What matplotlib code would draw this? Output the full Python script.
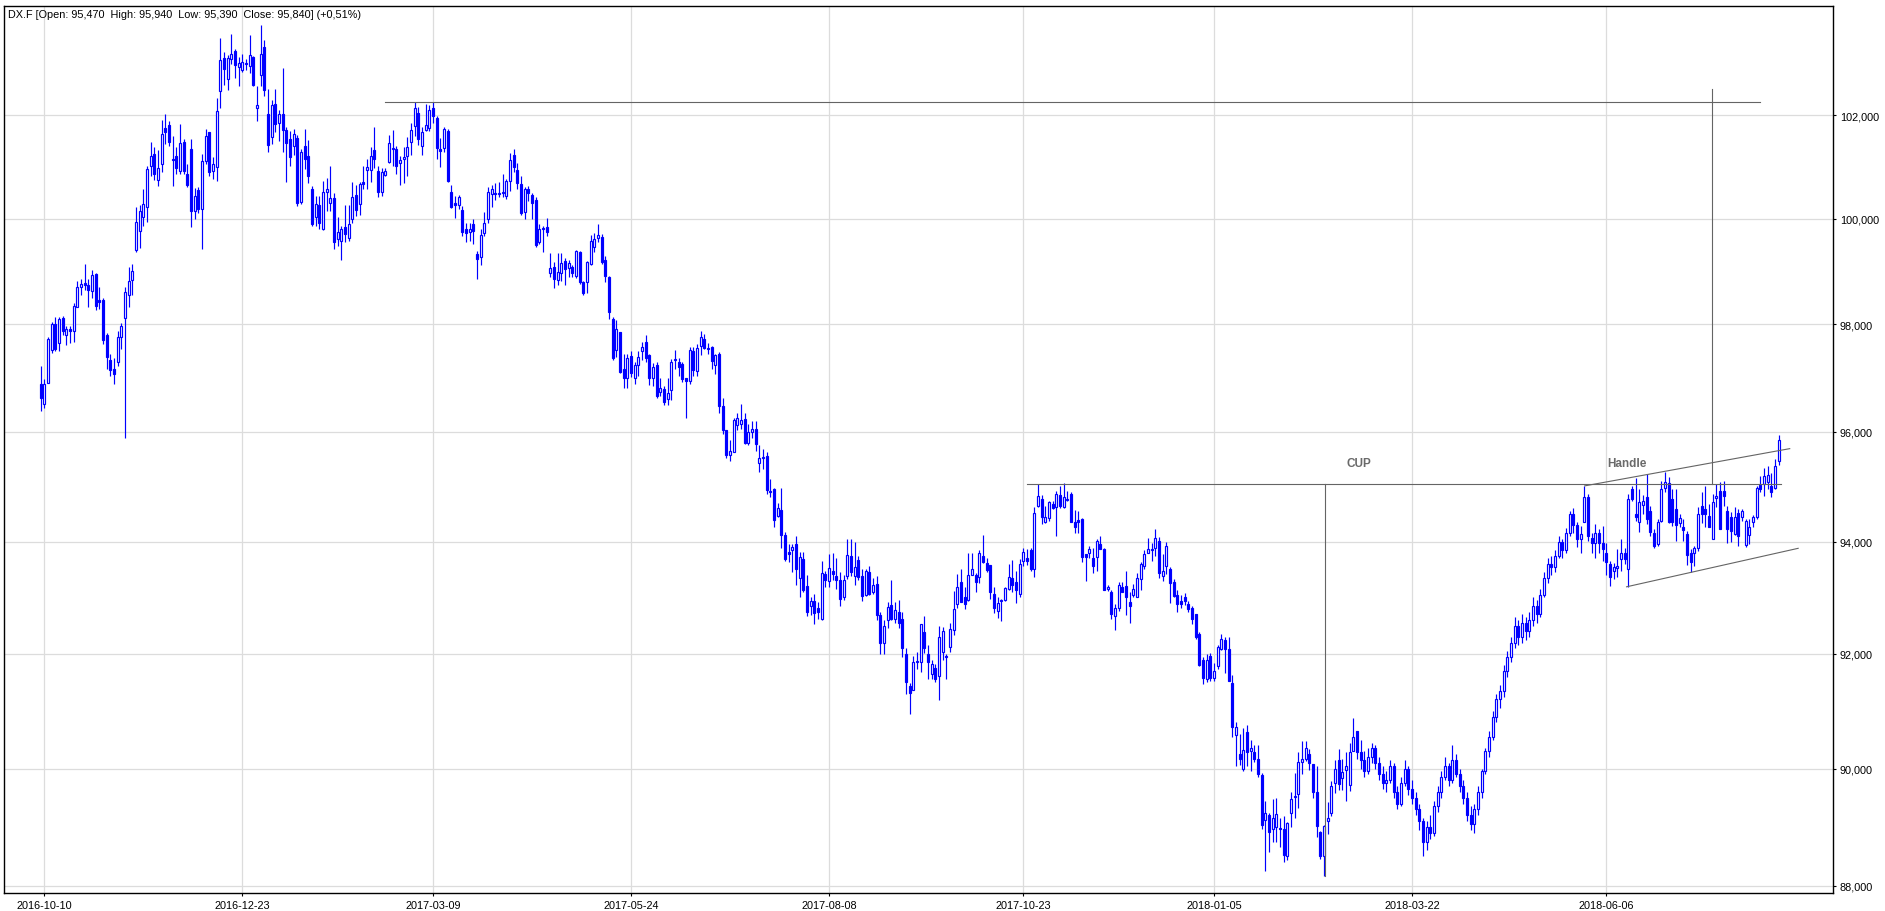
import numpy as np
import matplotlib
matplotlib.use("Agg")
import matplotlib.pyplot as plt
from matplotlib.ticker import FixedLocator, NullLocator, FuncFormatter

# daily bars of DX.F (bar 1 = 2016-10-10)
opens = [
    96.89, 96.52, 96.91, 97.52, 98.00, 97.64, 98.11, 97.79, 97.91, 97.87,
    98.32, 98.70, 98.77, 98.74, 98.62, 98.94, 98.46, 98.45, 97.79, 97.33,
    97.16, 97.30, 97.76, 98.11, 98.54, 98.84, 99.41, 99.76, 100.03, 100.23,
    101.02, 101.25, 100.75, 101.05, 101.76, 101.81, 101.15, 101.21, 100.92, 101.49,
    100.87, 101.35, 100.15, 100.55, 100.19, 101.12, 101.68, 100.92, 101.00, 102.47,
    103.12, 102.71, 103.10, 103.26, 102.94, 102.90, 103.02, 102.97, 103.14, 102.15,
    102.79, 103.34, 102.03, 101.57, 102.22, 101.86, 102.03, 101.72, 101.53, 101.41,
    101.56, 100.32, 101.40, 101.20, 100.57, 100.04, 100.26, 99.81, 100.52, 100.31,
    100.39, 99.61, 99.58, 99.85, 99.64, 99.99, 100.45, 100.28, 100.70, 100.93,
    100.94, 101.33, 100.91, 100.52, 100.85, 101.09, 101.34, 101.35, 101.07, 101.16,
    101.20, 101.49, 101.80, 102.05, 101.41, 101.72, 101.75, 102.14, 101.94, 101.35,
    101.36, 101.70, 100.52, 100.30, 100.26, 100.16, 99.81, 99.75, 99.90, 99.33,
    99.26, 99.72, 99.99, 100.48, 100.50, 100.49, 100.50, 100.44, 100.73, 101.23,
    100.94, 100.66, 100.13, 100.57, 100.45, 100.36, 99.55, 99.82, 99.85, 98.96,
    99.08, 98.84, 98.97, 99.20, 99.06, 99.08, 98.90, 99.36, 98.79, 98.79,
    99.14, 99.45, 99.63, 99.65, 99.21, 98.89, 98.10, 97.51, 97.85, 97.17,
    96.99, 97.41, 96.99, 97.23, 97.49, 97.66, 97.42, 97.00, 97.23, 96.74,
    96.79, 96.60, 96.77, 97.33, 97.30, 97.26, 97.00, 96.93, 97.49, 97.13,
    97.59, 97.73, 97.56, 97.57, 97.23, 97.45, 96.47, 96.04, 95.58, 95.63,
    96.13, 96.15, 96.24, 95.80, 95.99, 96.06, 95.42, 95.51, 95.55, 94.91,
    94.95, 94.47, 94.57, 94.12, 93.81, 93.85, 93.96, 93.34, 93.69, 93.20,
    92.84, 92.94, 92.81, 92.62, 93.42, 93.29, 93.48, 93.39, 93.32, 93.00,
    93.39, 93.74, 93.39, 93.67, 93.39, 93.04, 93.45, 93.09, 93.24, 92.69,
    92.20, 92.60, 92.87, 92.62, 92.75, 92.62, 92.00, 91.43, 91.37, 91.85,
    91.86, 92.39, 92.00, 91.64, 91.76, 91.61, 92.04, 91.96, 92.12, 92.43,
    92.89, 93.27, 93.00, 92.96, 93.41, 93.41, 93.37, 93.74, 93.62, 93.58,
    93.07, 92.76, 92.93, 92.95, 93.15, 93.34, 93.28, 93.06, 93.65, 93.70,
    93.85, 93.50, 94.64, 94.78, 94.36, 94.42, 94.68, 94.62, 94.84, 94.63,
    94.76, 94.86, 94.36, 94.39, 94.41, 93.77, 93.79, 93.71, 93.73, 93.95,
    93.86, 93.15, 93.10, 92.67, 92.81, 93.19, 93.21, 92.92, 93.04, 93.01,
    93.33, 93.57, 93.80, 93.85, 93.89, 94.02, 93.39, 93.57, 93.51, 93.27,
    93.04, 92.94, 93.00, 92.89, 92.82, 92.70, 92.36, 91.90, 91.56, 91.97,
    91.58, 91.78, 92.08, 92.24, 92.08, 91.49, 90.58, 90.26, 90.00, 90.64,
    90.30, 90.28, 90.16, 89.89, 89.11, 89.20, 88.97, 89.00, 88.97, 88.96,
    88.50, 89.24, 89.51, 89.57, 90.12, 90.17, 90.26, 90.08, 89.60, 88.91,
    88.51, 89.10, 89.23, 89.75, 90.15, 89.83, 89.97, 89.72, 90.30, 90.65,
    90.29, 90.15, 89.95, 90.20, 90.35, 90.10, 89.90, 89.75, 89.80, 90.05,
    89.60, 89.40, 89.75, 90.00, 89.65, 89.50, 89.30, 89.10, 88.75, 89.00,
    88.90, 89.35, 89.60, 89.85, 90.05, 89.80, 90.15, 89.90, 89.70, 89.50,
    89.20, 89.05, 89.30, 89.60, 89.95, 90.30, 90.55, 90.90, 91.20, 91.35,
    91.70, 91.95, 92.20, 92.50, 92.30, 92.55, 92.40, 92.60, 92.85, 92.70,
    93.05, 93.35, 93.60, 93.55, 93.75, 94.00, 93.85, 94.15, 94.50, 94.30,
    94.05, 94.35, 94.80, 94.06, 93.97, 94.16, 93.98, 93.80, 93.60, 93.48,
    93.52, 93.68, 93.80, 93.50, 94.96, 94.50, 94.35, 94.66, 94.80, 94.56,
    94.15, 93.95, 94.38, 94.98, 95.07, 94.78, 94.59, 94.33, 94.27, 94.13,
    93.80, 93.80, 93.89, 94.64, 94.59, 94.47, 94.04, 94.79, 94.92, 94.92,
    94.56, 94.44, 94.13, 94.52, 94.45, 93.94, 94.12, 94.36, 94.44, 95.02,
    95.04, 95.08, 95.01, 94.98, 95.47,
]
highs = [
    97.21, 96.98, 97.76, 98.04, 98.13, 98.13, 98.15, 97.97, 97.96, 98.40,
    98.82, 98.86, 99.13, 98.86, 99.03, 98.96, 98.70, 98.50, 97.83, 97.45,
    97.36, 97.88, 98.02, 98.70, 99.08, 99.14, 100.22, 100.26, 100.57, 101.02,
    101.49, 101.39, 101.32, 101.90, 102.03, 101.89, 101.59, 101.39, 101.83, 101.53,
    101.05, 101.54, 100.59, 100.60, 101.25, 101.73, 101.68, 101.18, 102.34, 103.52,
    103.25, 103.18, 103.60, 103.31, 103.14, 103.20, 103.10, 103.58, 103.16, 102.58,
    103.79, 103.48, 102.51, 102.30, 102.51, 102.11, 102.93, 101.77, 101.70, 101.73,
    101.62, 101.35, 101.73, 101.51, 100.62, 100.43, 100.44, 100.72, 100.78, 101.02,
    100.50, 100.04, 99.86, 100.26, 100.26, 100.71, 100.65, 100.70, 101.02, 101.15,
    101.39, 101.78, 101.02, 100.97, 100.97, 101.61, 101.72, 101.41, 101.20, 101.38,
    101.57, 101.86, 102.27, 102.16, 101.77, 102.22, 102.20, 102.27, 101.99, 101.55,
    101.77, 101.73, 100.65, 100.44, 100.45, 100.25, 99.91, 99.91, 100.00, 99.38,
    99.80, 100.12, 100.60, 100.65, 100.68, 100.71, 100.86, 100.77, 101.26, 101.34,
    101.07, 100.83, 100.60, 100.63, 100.49, 100.41, 99.89, 99.86, 100.02, 99.35,
    99.17, 99.35, 99.35, 99.25, 99.22, 99.11, 99.41, 99.39, 98.82, 99.20,
    99.69, 99.72, 99.89, 99.70, 99.28, 98.90, 98.13, 98.07, 97.86, 97.44,
    97.44, 97.50, 97.29, 97.50, 97.66, 97.79, 97.45, 97.28, 97.29, 96.99,
    96.85, 97.00, 97.34, 97.52, 97.36, 97.30, 97.00, 97.58, 97.58, 97.62,
    97.87, 97.82, 97.65, 97.59, 97.45, 97.48, 96.62, 96.04, 95.84, 96.26,
    96.34, 96.51, 96.34, 96.15, 96.20, 96.20, 95.75, 95.69, 95.63, 95.13,
    94.98, 94.70, 94.98, 94.18, 93.95, 93.95, 94.11, 93.81, 93.81, 93.41,
    93.00, 93.06, 92.92, 93.65, 93.48, 93.78, 93.79, 93.70, 93.45, 93.41,
    94.04, 94.05, 94.00, 93.75, 93.51, 93.51, 93.56, 93.34, 93.39, 92.75,
    92.60, 92.92, 93.32, 92.92, 92.95, 92.75, 92.10, 91.48, 91.96, 92.04,
    92.52, 92.67, 92.16, 91.90, 91.82, 92.50, 92.47, 92.00, 92.54, 93.12,
    93.42, 93.50, 93.18, 93.79, 93.79, 93.44, 93.85, 94.12, 93.70, 93.58,
    93.19, 93.00, 92.97, 93.18, 93.59, 93.67, 93.47, 93.68, 93.89, 93.87,
    93.89, 94.62, 95.04, 94.84, 94.65, 94.74, 94.74, 94.92, 95.01, 95.07,
    94.92, 94.89, 94.57, 94.56, 94.42, 93.77, 93.92, 93.89, 94.04, 94.10,
    93.89, 93.22, 93.13, 92.88, 93.28, 93.27, 93.47, 93.09, 93.24, 93.44,
    93.63, 93.85, 94.07, 93.97, 94.22, 94.09, 93.77, 93.99, 93.55, 93.33,
    93.13, 93.04, 93.08, 92.94, 92.85, 92.70, 92.38, 91.95, 91.99, 92.02,
    91.84, 92.15, 92.36, 92.30, 92.30, 91.62, 90.80, 90.60, 90.70, 90.75,
    90.49, 90.40, 90.40, 89.92, 89.44, 89.23, 89.48, 89.50, 89.15, 89.19,
    89.08, 89.59, 89.93, 90.28, 90.48, 90.47, 90.33, 90.08, 90.05, 88.93,
    89.04, 89.43, 89.79, 90.15, 90.33, 90.17, 90.28, 90.44, 90.88, 90.65,
    90.50, 90.30, 90.35, 90.45, 90.40, 90.20, 90.05, 89.95, 90.15, 90.10,
    89.70, 89.85, 90.15, 90.05, 89.80, 89.60, 89.40, 89.15, 89.10, 89.20,
    89.45, 89.70, 89.95, 90.20, 90.10, 90.40, 90.25, 90.00, 89.80, 89.60,
    89.35, 89.40, 89.70, 90.00, 90.35, 90.65, 91.00, 91.30, 91.45, 91.80,
    92.05, 92.30, 92.65, 92.60, 92.70, 92.65, 92.75, 93.00, 92.95, 93.15,
    93.45, 93.70, 93.75, 93.85, 94.10, 94.05, 94.25, 94.55, 94.60, 94.35,
    94.28, 95.01, 94.86, 94.16, 94.32, 94.22, 94.28, 93.98, 93.65, 93.62,
    93.86, 94.04, 93.89, 94.86, 95.01, 95.15, 94.95, 94.84, 95.22, 94.65,
    94.22, 94.41, 95.10, 95.27, 95.18, 94.95, 94.95, 94.50, 94.41, 94.19,
    93.87, 93.93, 94.62, 94.89, 95.01, 94.68, 94.86, 95.04, 95.08, 95.10,
    94.65, 94.53, 94.62, 94.59, 94.59, 94.41, 94.41, 94.48, 95.01, 95.19,
    95.34, 95.37, 95.25, 95.50, 95.94,
]
lows = [
    96.38, 96.44, 96.90, 97.46, 97.50, 97.50, 97.80, 97.60, 97.64, 97.66,
    98.32, 98.54, 98.64, 98.33, 98.50, 98.26, 98.29, 97.63, 97.16, 97.04,
    96.88, 97.22, 97.54, 95.88, 98.32, 98.54, 99.37, 99.44, 99.87, 99.94,
    100.83, 100.74, 100.63, 100.89, 101.44, 101.41, 100.63, 100.86, 100.87, 100.87,
    100.60, 99.85, 100.00, 100.10, 99.43, 101.05, 100.83, 100.76, 100.72, 102.15,
    102.59, 102.50, 103.00, 102.74, 102.57, 102.86, 102.90, 102.84, 102.57, 101.89,
    102.58, 102.38, 101.29, 101.44, 101.67, 101.50, 101.28, 100.71, 101.01, 101.22,
    100.25, 100.28, 100.96, 100.69, 99.87, 99.87, 99.81, 99.79, 100.15, 100.15,
    99.42, 99.48, 99.22, 99.56, 99.58, 99.92, 100.06, 100.08, 100.58, 100.57,
    100.70, 100.97, 100.41, 100.44, 100.82, 101.08, 101.02, 100.87, 100.65, 100.68,
    100.83, 101.22, 101.60, 101.42, 101.22, 101.70, 101.70, 101.86, 101.15, 101.00,
    101.28, 100.71, 100.20, 100.02, 100.18, 99.66, 99.55, 99.58, 99.52, 98.86,
    99.11, 99.67, 99.91, 100.23, 100.36, 100.42, 100.41, 100.37, 100.54, 100.89,
    100.57, 100.08, 99.99, 100.34, 99.99, 99.45, 99.52, 99.37, 99.66, 98.89,
    98.69, 98.73, 98.82, 98.73, 98.89, 98.89, 98.87, 98.76, 98.54, 98.59,
    99.12, 99.37, 99.55, 99.14, 98.79, 98.09, 97.32, 97.38, 97.08, 96.80,
    96.80, 97.01, 96.88, 97.04, 97.32, 97.29, 96.86, 96.84, 96.63, 96.66,
    96.50, 96.50, 96.59, 97.16, 97.04, 96.92, 96.25, 96.88, 97.04, 97.04,
    97.43, 97.53, 97.45, 97.17, 97.07, 96.34, 95.95, 95.52, 95.47, 95.63,
    96.04, 96.06, 95.77, 95.75, 95.89, 95.65, 95.27, 95.32, 94.86, 94.80,
    94.27, 94.45, 93.89, 93.66, 93.63, 93.46, 93.23, 93.01, 93.10, 92.67,
    92.68, 92.53, 92.62, 92.60, 93.18, 93.18, 93.31, 93.15, 92.85, 92.95,
    93.33, 93.39, 93.22, 93.31, 92.93, 93.03, 93.05, 93.06, 92.60, 92.00,
    92.00, 92.46, 92.60, 92.55, 92.45, 91.95, 91.30, 90.95, 91.37, 91.74,
    91.68, 92.01, 91.56, 91.56, 91.50, 91.19, 91.90, 91.56, 92.04, 92.33,
    92.82, 92.92, 92.79, 92.94, 93.41, 93.09, 93.25, 93.61, 93.46, 92.97,
    92.72, 92.64, 92.58, 92.94, 93.13, 93.09, 92.91, 93.00, 93.56, 93.58,
    93.47, 93.37, 94.62, 94.31, 94.33, 94.37, 94.59, 94.10, 94.60, 94.60,
    94.74, 94.35, 94.16, 94.16, 93.64, 93.30, 93.70, 93.43, 93.47, 93.86,
    93.13, 93.12, 92.61, 92.42, 92.76, 93.09, 92.68, 92.55, 93.01, 93.00,
    93.14, 93.51, 93.79, 93.65, 93.74, 93.34, 93.30, 93.42, 92.91, 93.00,
    92.74, 92.82, 92.86, 92.74, 92.52, 92.27, 91.78, 91.47, 91.51, 91.52,
    91.52, 91.74, 92.06, 91.66, 91.52, 90.54, 90.05, 90.06, 89.96, 90.05,
    89.96, 90.12, 89.85, 88.96, 88.25, 88.58, 88.75, 88.75, 88.65, 88.40,
    88.43, 89.00, 89.16, 89.33, 89.90, 90.13, 89.98, 89.50, 88.82, 88.45,
    88.16, 88.88, 89.19, 89.58, 89.64, 89.64, 89.44, 89.62, 90.30, 90.17,
    90.00, 89.85, 89.90, 90.10, 90.00, 89.80, 89.65, 89.60, 89.75, 89.50,
    89.30, 89.35, 89.70, 89.55, 89.40, 89.20, 88.95, 88.50, 88.60, 88.80,
    88.85, 89.25, 89.50, 89.80, 89.70, 89.75, 89.85, 89.60, 89.40, 89.10,
    88.95, 88.90, 89.20, 89.50, 89.90, 90.20, 90.50, 90.80, 91.05, 91.25,
    91.60, 91.85, 92.10, 92.15, 92.20, 92.25, 92.30, 92.50, 92.55, 92.65,
    93.00, 93.25, 93.40, 93.45, 93.70, 93.70, 93.80, 94.10, 94.15, 93.90,
    93.80, 94.35, 94.01, 93.80, 93.71, 93.80, 93.65, 93.40, 93.20, 93.33,
    93.36, 93.48, 93.60, 93.18, 94.74, 94.38, 94.18, 94.50, 94.32, 94.10,
    93.89, 93.93, 94.36, 94.89, 94.33, 94.28, 94.01, 94.27, 94.01, 93.58,
    93.46, 93.57, 93.83, 94.33, 94.27, 94.27, 94.04, 94.62, 94.22, 94.65,
    93.98, 94.00, 94.12, 93.92, 94.38, 93.91, 93.95, 94.27, 94.41, 94.89,
    94.83, 94.95, 94.80, 94.95, 95.39,
]
closes = [
    96.63, 96.89, 97.72, 98.00, 97.54, 98.10, 97.88, 97.90, 97.87, 98.34,
    98.70, 98.76, 98.73, 98.64, 98.93, 98.35, 98.42, 97.70, 97.39, 97.15,
    97.07, 97.76, 97.96, 98.60, 98.82, 99.00, 99.94, 100.15, 100.28, 100.95,
    101.20, 100.87, 100.97, 101.63, 101.68, 101.49, 101.13, 100.97, 101.46, 100.91,
    100.65, 100.14, 100.44, 100.19, 101.12, 101.59, 100.89, 101.06, 102.08, 103.08,
    102.92, 103.12, 103.21, 102.99, 103.02, 103.04, 103.00, 103.19, 102.59, 102.21,
    103.20, 102.50, 101.43, 102.20, 101.83, 102.03, 101.72, 101.46, 101.18, 101.64,
    100.31, 101.28, 101.15, 100.82, 99.89, 100.28, 99.91, 100.52, 100.57, 100.39,
    99.56, 99.75, 99.81, 99.70, 99.89, 100.41, 100.17, 100.67, 100.67, 100.99,
    101.20, 101.15, 100.52, 100.89, 100.91, 101.46, 101.37, 101.01, 101.13, 101.18,
    101.39, 101.72, 102.14, 101.53, 101.67, 101.81, 102.11, 101.99, 101.37, 101.30,
    101.73, 100.73, 100.23, 100.27, 100.41, 99.75, 99.72, 99.81, 99.77, 99.23,
    99.69, 99.92, 100.52, 100.57, 100.48, 100.47, 100.52, 100.73, 101.13, 100.99,
    100.68, 100.10, 100.57, 100.49, 100.30, 99.50, 99.81, 99.80, 99.75, 99.06,
    98.86, 98.98, 99.15, 99.04, 99.15, 98.97, 99.38, 98.79, 98.59, 99.17,
    99.57, 99.62, 99.69, 99.17, 98.90, 98.23, 97.37, 97.91, 97.11, 96.99,
    97.36, 97.08, 97.23, 97.39, 97.58, 97.36, 96.99, 97.20, 96.66, 96.81,
    96.54, 96.71, 97.29, 97.35, 97.19, 96.98, 96.94, 97.51, 97.15, 97.56,
    97.76, 97.55, 97.54, 97.31, 97.43, 96.48, 96.03, 95.58, 95.64, 96.21,
    96.26, 96.21, 95.79, 95.99, 96.06, 95.77, 95.51, 95.53, 94.93, 94.90,
    94.39, 94.60, 94.12, 93.68, 93.78, 93.91, 93.50, 93.72, 93.14, 92.75,
    92.94, 92.73, 92.74, 93.44, 93.32, 93.52, 93.42, 93.31, 92.97, 93.32,
    93.76, 93.45, 93.54, 93.36, 93.02, 93.47, 93.07, 93.22, 92.69, 92.20,
    92.50, 92.83, 92.62, 92.78, 92.55, 92.10, 91.50, 91.31, 91.86, 91.87,
    92.52, 92.10, 91.85, 91.82, 91.55, 92.30, 92.41, 91.94, 92.44, 92.79,
    93.18, 92.92, 92.89, 93.41, 93.50, 93.28, 93.80, 93.64, 93.49, 93.10,
    92.82, 92.91, 92.95, 93.16, 93.36, 93.22, 93.13, 93.59, 93.81, 93.65,
    93.50, 94.51, 94.82, 94.45, 94.44, 94.71, 94.60, 94.86, 94.65, 94.80,
    94.77, 94.36, 94.27, 94.36, 93.73, 93.73, 93.86, 93.56, 94.01, 93.86,
    93.13, 93.19, 92.71, 92.82, 93.22, 93.10, 93.00, 92.84, 93.15, 93.34,
    93.60, 93.77, 93.87, 93.86, 94.07, 93.43, 93.48, 93.93, 93.25, 93.03,
    92.89, 92.88, 92.93, 92.79, 92.61, 92.30, 91.81, 91.58, 91.90, 91.58,
    91.70, 92.12, 92.27, 92.08, 91.52, 90.72, 90.72, 90.16, 90.32, 90.29,
    90.35, 90.17, 89.91, 89.03, 89.24, 88.91, 89.16, 89.22, 88.96, 88.52,
    89.06, 89.47, 89.52, 90.12, 90.16, 90.35, 90.10, 89.60, 89.01, 88.51,
    89.02, 89.15, 89.70, 89.99, 89.73, 89.94, 90.04, 90.29, 90.54, 90.29,
    90.15, 89.95, 90.20, 90.35, 90.10, 89.90, 89.75, 89.80, 90.05, 89.60,
    89.40, 89.75, 90.00, 89.65, 89.50, 89.30, 89.10, 88.75, 89.00, 88.90,
    89.35, 89.60, 89.85, 90.05, 89.80, 90.15, 89.90, 89.70, 89.50, 89.20,
    89.05, 89.30, 89.60, 89.95, 90.30, 90.55, 90.90, 91.20, 91.35, 91.70,
    91.95, 92.20, 92.50, 92.30, 92.55, 92.40, 92.60, 92.85, 92.70, 93.05,
    93.35, 93.60, 93.55, 93.75, 94.00, 93.85, 94.15, 94.50, 94.30, 94.05,
    94.13, 94.80, 94.10, 93.97, 94.16, 93.97, 93.87, 93.64, 93.37, 93.54,
    93.57, 93.80, 93.68, 94.78, 94.78, 94.45, 94.72, 94.74, 94.41, 94.18,
    93.93, 94.35, 94.96, 95.08, 94.35, 94.35, 94.30, 94.42, 94.21, 93.76,
    93.64, 93.89, 94.50, 94.50, 94.50, 94.27, 94.71, 94.82, 94.22, 94.83,
    94.22, 94.19, 94.44, 94.10, 94.56, 94.38, 94.27, 94.44, 94.98, 94.95,
    95.19, 95.20, 94.89, 95.38, 95.84,
]

tick_bars = [1, 55, 107, 161, 215, 268, 320, 374, 427]
tick_labels = ["2016-10-10", "2016-12-23", "2017-03-09", "2017-05-24", "2017-08-08",
               "2017-10-23", "2018-01-05", "2018-03-22", "2018-06-06"]
price_ticks = [88, 90, 92, 94, 96, 98, 100, 102]

title_text = "DX.F [Open: 95,470  High: 95,940  Low: 95,390  Close: 95,840] (+0,51%)"

# drawn lines: (bar, bar), (price, price)
resistance = ([94, 469], [102.27, 102.27])
cup_rim = ([269, 474.5], [95.05, 95.05])
cup_depth = ([350.3, 350.3], [95.05, 88.16])
handle_target = ([455.7, 455.7], [95.05, 102.51])
handle_top = ([421.1, 477.0], [95.01, 95.69])
handle_bottom = ([432.5, 479.3], [93.19, 93.88])
labels = [("CUP", 359.5, 95.43), ("Handle", 432.5, 95.43)]

blue = "#0000ff"
line_gray = "#646464"

plt.rcParams['font.family'] = ['Liberation Sans', 'DejaVu Sans']

o = np.array(opens)
h = np.array(highs)
l = np.array(lows)
c = np.array(closes)
x = np.arange(len(c))

fig = plt.figure(figsize=(18.85, 9.12), dpi=100)
ax = fig.add_axes([4 / 1885, 18 / 912, 1829 / 1885, 887 / 912])
ax.set_yscale('log')
ax.set_xlim(-10.0, 488.8)
ax.set_ylim(87.88, 104.16)

# grid
ax.set_axisbelow(True)
ax.grid(True, color="#dcdcdc", lw=0.9)

# candles
lo_body = np.minimum(o, c)
hi_body = np.maximum(o, c)
up = c >= o
ax.vlines(x, np.minimum(l, lo_body), np.maximum(h, hi_body), color=blue, lw=0.85, zorder=2)
height = np.maximum(hi_body - lo_body, 0.015)
ax.bar(x[up], height[up], bottom=lo_body[up], width=0.6, facecolor="white",
       edgecolor=blue, lw=0.85, zorder=3)
ax.bar(x[~up], height[~up], bottom=lo_body[~up], width=0.6, facecolor=blue,
       edgecolor=blue, lw=0.85, zorder=3)

# pattern lines
for xs, ys in [resistance, cup_rim, cup_depth, handle_target, handle_top, handle_bottom]:
    ax.plot(xs, ys, color=line_gray, lw=0.8, zorder=5)
for txt, bx, py in labels:
    ax.text(bx, py, txt, ha="center", va="center", fontsize=8.5, fontweight="bold",
            color="#6a6a6a", zorder=6)

# axes
ax.xaxis.set_major_locator(FixedLocator(tick_bars))
ax.set_xticklabels(tick_labels)
ax.xaxis.set_minor_locator(NullLocator())
ax.yaxis.tick_right()
ax.yaxis.set_major_locator(FixedLocator(price_ticks))
ax.yaxis.set_minor_locator(NullLocator())
ax.yaxis.set_minor_formatter(FuncFormatter(lambda v, p: ""))
ax.yaxis.set_major_formatter(FuncFormatter(lambda v, p: f"{v:.3f}".replace(".", ",")))
ax.tick_params(axis="both", which="major", direction="out", length=2.5, width=0.8,
               labelsize=7.8, pad=2.5, colors="black")
for sp in ax.spines.values():
    sp.set_color("black")
    sp.set_linewidth(1.0)

fig.text(8 / 1885, 1 - 10 / 912, title_text, ha="left", va="top", fontsize=7.8)

fig.savefig("out.png", dpi=100)
